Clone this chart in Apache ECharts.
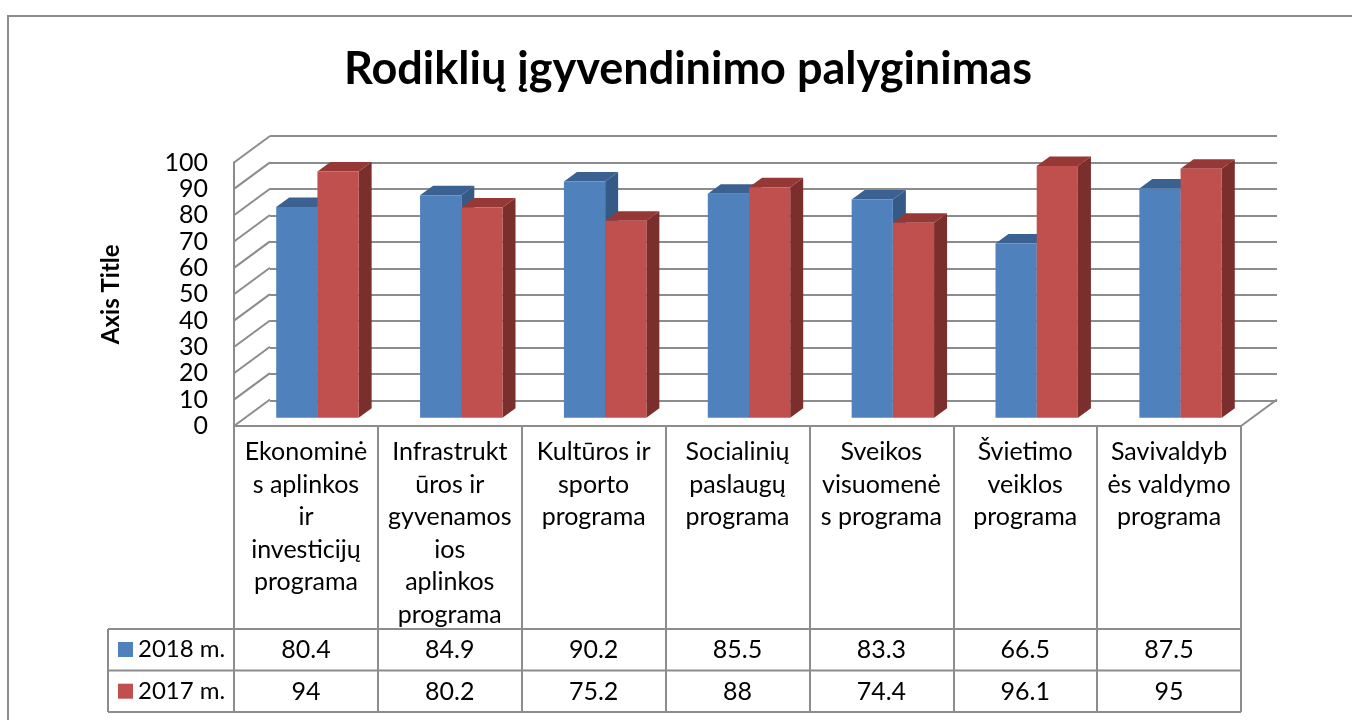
<!DOCTYPE html>
<html>
<head>
<meta charset="utf-8">
<script src="https://cdn.jsdelivr.net/npm/echarts@6/dist/echarts.min.js"></script>
<style>
html,body{margin:0;padding:0;background:#fff;}
#chart{width:1352px;height:720px;}
</style>
</head>
<body>
<div id="chart"></div>
<script>
// ---- data ----
var categories = [
  "Ekonominė\ns aplinkos\nir\ninvesticijų\nprograma",
  "Infrastrukt\nūros ir\ngyvenamos\nios\naplinkos\nprograma",
  "Kultūros ir\nsporto\nprograma",
  "Socialinių\npaslaugų\nprograma",
  "Sveikos\nvisuomenė\ns programa",
  "Švietimo\nveiklos\nprograma",
  "Savivaldyb\nės valdymo\nprograma"
];
var seriesNames = ["2018 m.", "2017 m."];
var values2018 = [80.4, 84.9, 90.2, 85.5, 83.3, 66.5, 87.5];
var values2017 = [94, 80.2, 75.2, 88, 74.4, 96.1, 95];
var yTicks = [0, 10, 20, 30, 40, 50, 60, 70, 80, 90, 100];
var titleText = "Rodiklių įgyvendinimo palyginimas";
var axisTitle = "Axis Title";

// ---- styling constants ----
var FONT = "Lato";
var GRAY = "#8c8c8c";
var WALL_DX = 36, WALL_DY = 26.5;   // depth of the 3D box
var BAR_DX = 13, BAR_DY = 9.5;      // depth of each bar
var BAR_FRAC = 0.2865;              // bar width as fraction of band
var FS = 25;
var colors = [
  {front: "#4F81BD", top: "#3B6190", side: "#355A86"},
  {front: "#C0504D", top: "#953836", side: "#7B2F2D"}
];

var chart = echarts.init(document.getElementById('chart'));

function barRender(sIdx) {
  var c = colors[sIdx];
  return function (params, api) {
    var i = api.value(0), v = api.value(1);
    var top = api.coord([i, v]);
    var base = api.coord([i, 0]);
    var bw = api.size([1, 0])[0] * BAR_FRAC;
    var x0 = top[0] + (sIdx === 0 ? -bw : 0);
    var x1 = x0 + bw;
    var yT = top[1], yB = base[1];
    return {
      type: 'group',
      children: [
        {type: 'polygon', shape: {points: [[x1, yB], [x1 + BAR_DX, yB - BAR_DY], [x1 + BAR_DX, yT - BAR_DY], [x1, yT]]}, style: {fill: c.side}},
        {type: 'polygon', shape: {points: [[x0, yT], [x0 + BAR_DX, yT - BAR_DY], [x1 + BAR_DX, yT - BAR_DY], [x1, yT]]}, style: {fill: c.top}},
        {type: 'rect', shape: {x: x0, y: yT, width: bw, height: yB - yT}, style: {fill: c.front}}
      ]
    };
  };
}

// left wall diagonals + floor right edge, drawn in the front grid
function wallRender(params, api) {
  var v = api.value(0);
  var p = api.coord([0, v]);
  var half = api.size([1, 0])[0] / 2;
  var x = p[0] - half, y = p[1];
  var children = [
    {type: 'line', shape: {x1: x, y1: y, x2: x + WALL_DX, y2: y - WALL_DY}, style: {stroke: GRAY, lineWidth: 2}}
  ];
  if (v === 0) {
    var pr = api.coord([categories.length - 1, 0]);
    var xr = pr[0] + half;
    children.push({type: 'line', shape: {x1: xr, y1: y, x2: xr + WALL_DX, y2: y - WALL_DY}, style: {stroke: GRAY, lineWidth: 2}});
  }
  return {type: 'group', children: children};
}

var data2018 = values2018.map(function (v, i) { return [i, v]; });
var data2017 = values2017.map(function (v, i) { return [i, v]; });
var wallData = yTicks.map(function (t) { return [t]; });

var FRONT = {left: 234, top: 162.5, width: 1007, height: 263.5};
var BACK = {left: FRONT.left + WALL_DX, top: FRONT.top - WALL_DY, width: 1007, height: 264.5};
var BARS = {left: 245.5, top: 155.7, width: 1007, height: 262};

var option = {
  animation: false,
  backgroundColor: '#fff',
  textStyle: {fontFamily: FONT},
  title: {
    text: titleText,
    left: 683,
    top: 42,
    textAlign: 'center',
    textStyle: {fontFamily: FONT, fontWeight: 'bold', fontSize: 45, color: '#000'}
  },
  legend: {
    orient: 'vertical',
    left: 113,
    top: 632,
    itemWidth: 15,
    itemHeight: 15,
    itemGap: 16.7,
    icon: 'rect',
    data: seriesNames,
    textStyle: {fontFamily: FONT, fontSize: 24, color: '#000', lineHeight: 25}
  },
  graphic: [
    {type: 'rect', shape: {x: 8, y: 16, width: 1500, height: 800}, style: {fill: 'none', stroke: GRAY, lineWidth: 2}, z: -10},
    {type: 'polyline', shape: {points: [[108, 629], [1241, 629]]}, style: {stroke: GRAY, lineWidth: 2}},
    {type: 'polyline', shape: {points: [[108, 670.5], [1241, 670.5]]}, style: {stroke: GRAY, lineWidth: 2}},
    {type: 'polyline', shape: {points: [[108, 712], [1241, 712]]}, style: {stroke: GRAY, lineWidth: 2}},
    {type: 'polyline', shape: {points: [[108, 629], [108, 712]]}, style: {stroke: GRAY, lineWidth: 2}}
  ],
  grid: [
    Object.assign({containLabel: false}, FRONT),
    Object.assign({containLabel: false}, BACK),
    Object.assign({containLabel: false}, BARS)
  ],
  xAxis: [
    { // front: category names in table header, vertical table lines as ticks
      type: 'category', gridIndex: 0, data: categories,
      axisLine: {show: true, lineStyle: {color: GRAY, width: 2}},
      axisTick: {show: true, alignWithLabel: false, interval: 0, length: 286, lineStyle: {color: GRAY, width: 2}},
      axisLabel: {interval: 0, margin: 10, fontFamily: FONT, fontSize: FS, lineHeight: 32.5, color: '#000', verticalAlign: 'top', align: 'center'}
    },
    { // 2018 values row
      type: 'category', gridIndex: 0, data: categories, position: 'bottom', offset: 224,
      axisLine: {show: false}, axisTick: {show: false},
      axisLabel: {interval: 0, margin: 0, verticalAlign: 'middle', fontFamily: FONT, fontSize: FS, color: '#000',
        formatter: function (v, idx) { return String(values2018[idx]); }}
    },
    { // 2017 values row
      type: 'category', gridIndex: 0, data: categories, position: 'bottom', offset: 265.7,
      axisLine: {show: false}, axisTick: {show: false},
      axisLabel: {interval: 0, margin: 0, verticalAlign: 'middle', fontFamily: FONT, fontSize: FS, color: '#000',
        formatter: function (v, idx) { return String(values2017[idx]); }}
    },
    {type: 'category', gridIndex: 1, data: categories, show: false},
    {type: 'category', gridIndex: 2, data: categories, show: false}
  ],
  yAxis: [
    {
      type: 'value', gridIndex: 0, min: 0, max: 100, interval: 10,
      name: axisTitle, nameLocation: 'middle', nameRotate: 90, nameGap: 111,
      nameTextStyle: {fontFamily: FONT, fontWeight: 'bold', fontSize: 24, color: '#000'},
      axisLine: {show: true, lineStyle: {color: GRAY, width: 2}},
      axisTick: {show: false},
      splitLine: {show: false},
      axisLabel: {margin: 26, fontFamily: FONT, fontSize: FS, color: '#000'}
    },
    {
      type: 'value', gridIndex: 1, min: 0, max: 100, interval: 10,
      axisLine: {show: false}, axisTick: {show: false}, axisLabel: {show: false},
      splitLine: {show: true, lineStyle: {color: GRAY, width: 2}}
    },
    {
      type: 'value', gridIndex: 2, min: 0, max: 100, interval: 10, show: false,
      splitLine: {show: false}
    }
  ],
  series: [
    {
      type: 'custom', name: 'walls', xAxisIndex: 0, yAxisIndex: 0,
      data: wallData, encode: {y: 0}, renderItem: wallRender, silent: true, z: 1, clip: false
    },
    {
      type: 'custom', name: seriesNames[0], xAxisIndex: 4, yAxisIndex: 2,
      data: data2018, encode: {x: 0, y: 1}, renderItem: barRender(0),
      itemStyle: {color: colors[0].front}, z: 3, clip: false
    },
    {
      type: 'custom', name: seriesNames[1], xAxisIndex: 4, yAxisIndex: 2,
      data: data2017, encode: {x: 0, y: 1}, renderItem: barRender(1),
      itemStyle: {color: colors[1].front}, z: 4, clip: false
    }
  ]
};
chart.setOption(option);
</script>
</body>
</html>
